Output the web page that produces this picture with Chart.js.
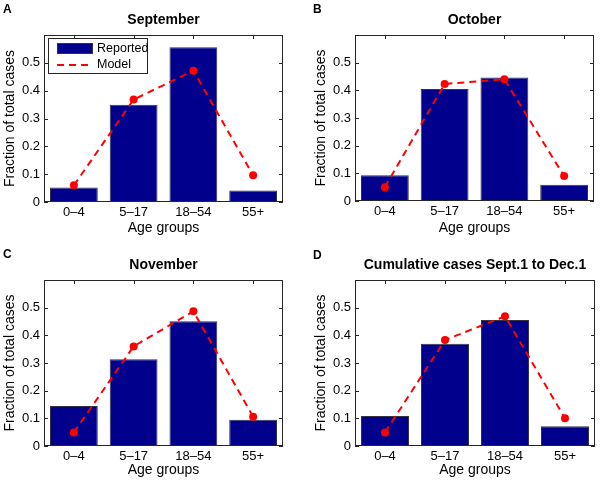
<!DOCTYPE html>
<html>
<head>
<meta charset="utf-8">
<title>Age distribution of cases: reported vs model</title>
<script src="https://cdn.jsdelivr.net/npm/chart.js"></script>
<style>
  body { margin: 0; background: #fff; }
  #wrap { position: relative; width: 600px; height: 480px; }
  #wrap canvas { position: absolute; }
</style>
</head>
<body>
<div id="wrap">
  <canvas id="chartA" width="300" height="240" style="left:0;top:0"></canvas>
  <canvas id="chartB" width="300" height="240" style="left:300px;top:0"></canvas>
  <canvas id="chartC" width="300" height="240" style="left:0;top:240px"></canvas>
  <canvas id="chartD" width="300" height="240" style="left:300px;top:240px"></canvas>
</div>
<script>
// data
const ageGroups = ['0–4', '5–17', '18–54', '55+'];
const reportedSep = [0.052, 0.349, 0.556, 0.041];
const modelSep    = [0.060, 0.368, 0.472, 0.096];
const reportedOct = [0.093, 0.405, 0.446, 0.059];
const modelOct    = [0.050, 0.423, 0.440, 0.090];
const reportedNov = [0.145, 0.314, 0.451, 0.095];
const modelNov    = [0.049, 0.360, 0.487, 0.106];
const reportedCum = [0.108, 0.370, 0.455, 0.071];
const modelCum    = [0.049, 0.383, 0.469, 0.100];
const yLabelled   = [0, 0.1, 0.2, 0.3, 0.4, 0.5];

const FONT = '"Liberation Sans", Arial, Helvetica, sans-serif';
const BAR_BLUE = '#00008c';
const AXIS_COL = '#262626';

// panel placement inside each 300x240 canvas
const panels = [
  { id: 'chartA', letter: 'A', letterPos: [3, 13], title: 'September', titleY: 20.5,
    reported: reportedSep, model: modelSep, area: { left: 44, right: 283, top: 35, bottom: 202 }, xPad: 3.6, legend: true },
  { id: 'chartB', letter: 'B', letterPos: [13, 13], title: 'October', titleY: 20.5,
    reported: reportedOct, model: modelOct, area: { left: 55, right: 294, top: 35, bottom: 201 }, xPad: 3.6 },
  { id: 'chartC', letter: 'C', letterPos: [3, 18], title: 'November', titleY: 25,
    reported: reportedNov, model: modelNov, area: { left: 44, right: 283, top: 40, bottom: 206 }, xPad: 1.6 },
  { id: 'chartD', letter: 'D', letterPos: [13, 19], title: 'Cumulative cases Sept.1 to Dec.1', titleY: 25,
    reported: reportedCum, model: modelCum, area: { left: 55, right: 295, top: 40, bottom: 206 }, xPad: 1.6 }
];

// box round the plot with inward ticks, panel letter and title
const matlabAxes = {
  id: 'matlabAxes',
  beforeDatasetsDraw(chart) {
    const { ctx, chartArea: a, scales: { x, y } } = chart;
    ctx.save();
    ctx.strokeStyle = AXIS_COL;
    ctx.lineWidth = 1;
    ctx.beginPath();
    y.ticks.forEach(t => {
      const py = Math.round(y.getPixelForValue(t.value)) + 0.5;
      ctx.moveTo(a.left, py); ctx.lineTo(a.left + 4, py);
      ctx.moveTo(a.right, py); ctx.lineTo(a.right - 4, py);
    });
    x.ticks.forEach((t, i) => {
      const px = Math.round(x.getPixelForTick(i)) + 0.5;
      ctx.moveTo(px, a.top); ctx.lineTo(px, a.top + 4);
      ctx.moveTo(px, a.bottom); ctx.lineTo(px, a.bottom - 4);
    });
    ctx.stroke();
    ctx.restore();
  },
  afterDatasetsDraw(chart) {
    const { ctx, chartArea: a } = chart;
    ctx.save();
    ctx.strokeStyle = AXIS_COL;
    ctx.lineWidth = 1;
    ctx.strokeRect(Math.round(a.left) + 0.5, Math.round(a.top) + 0.5,
                   Math.round(a.right - a.left) - 1, Math.round(a.bottom - a.top) - 1);
    ctx.restore();
  },
  afterDraw(chart, args, opts) {
    const { ctx, chartArea: a } = chart;
    ctx.save();
    ctx.fillStyle = '#000';
    ctx.font = 'bold 14px ' + FONT;
    ctx.textAlign = 'center';
    ctx.textBaseline = 'middle';
    ctx.fillText(opts.title, (a.left + a.right) / 2, opts.titleY);
    ctx.font = 'bold 12px ' + FONT;
    ctx.textAlign = 'left';
    ctx.textBaseline = 'alphabetic';
    ctx.fillText(opts.letter, opts.letterPos[0], opts.letterPos[1]);

    if (opts.legend) {
      const ds = chart.data.datasets;
      const x0 = Math.round(a.left) + 4, y0 = Math.round(a.top) + 3, w = 99, h = 35;
      ctx.fillStyle = '#fff';
      ctx.fillRect(x0, y0, w, h);
      ctx.strokeStyle = AXIS_COL;
      ctx.lineWidth = 1;
      ctx.strokeRect(x0 + 0.5, y0 + 0.5, w, h);
      ctx.fillStyle = ds[0].backgroundColor;
      ctx.fillRect(x0 + 9, y0 + 5, 36, 11);
      ctx.strokeStyle = ds[0].borderColor;
      ctx.strokeRect(x0 + 9.5, y0 + 5.5, 35, 10);
      ctx.strokeStyle = ds[1].borderColor;
      ctx.lineWidth = 2;
      ctx.setLineDash(ds[1].borderDash);
      ctx.beginPath();
      ctx.moveTo(x0 + 9, y0 + 27);
      ctx.lineTo(x0 + 45, y0 + 27);
      ctx.stroke();
      ctx.setLineDash([]);
      ctx.fillStyle = '#000';
      ctx.font = '12.5px ' + FONT;
      ctx.textBaseline = 'middle';
      ctx.fillText(ds[0].label, x0 + 49, y0 + 11);
      ctx.fillText(ds[1].label, x0 + 49, y0 + 27);
    }
    ctx.restore();
  }
};

panels.forEach(p => {
  const a = p.area;
  new Chart(document.getElementById(p.id), {
    type: 'bar',
    data: {
      labels: ageGroups,
      datasets: [
        {
          type: 'bar',
          label: 'Reported',
          data: p.reported,
          backgroundColor: BAR_BLUE,
          borderColor: '#333344',
          borderWidth: 1,
          barPercentage: 0.8,
          categoryPercentage: 1,
          order: 1
        },
        {
          type: 'line',
          label: 'Model',
          data: p.model,
          borderColor: '#ff0000',
          backgroundColor: '#ff0000',
          borderWidth: 2,
          borderDash: [7, 5],
          pointRadius: 4,
          pointBorderWidth: 0,
          pointBackgroundColor: '#ff0000',
          tension: 0,
          order: 0
        }
      ]
    },
    options: {
      responsive: false,
      animation: false,
      layout: { padding: { left: a.left - 44, right: 300 - a.right, top: a.top, bottom: 0 } },
      plugins: {
        legend: { display: false },
        title: { display: false },
        tooltip: { enabled: false },
        matlabAxes: { title: p.title, titleY: p.titleY, letter: p.letter, letterPos: p.letterPos, legend: !!p.legend }
      },
      scales: {
        x: {
          offset: true,
          grid: { display: false, drawTicks: false },
          border: { display: false },
          ticks: { color: '#000', font: { family: FONT, size: 13 }, padding: 3, maxRotation: 0 },
          title: { display: true, text: 'Age groups', color: '#000', font: { family: FONT, size: 14 },
                   padding: { top: 0, bottom: p.xPad } },
          afterFit: s => { s.height = 240 - a.bottom; }
        },
        y: {
          min: 0,
          max: 0.6,
          grid: { display: false, drawTicks: false },
          border: { display: false },
          ticks: {
            stepSize: 0.1,
            color: '#000',
            font: { family: FONT, size: 13 },
            padding: 4,
            callback: v => {
              const r = Math.round(v * 10) / 10;
              if (!yLabelled.includes(r)) return '';
              return r === 0 ? '0' : r.toFixed(1);
            }
          },
          title: { display: true, text: 'Fraction of total cases', color: '#000', font: { family: FONT, size: 14 },
                   padding: { top: 2, bottom: 0 } },
          afterFit: s => { s.width = 44; }
        }
      }
    },
    plugins: [matlabAxes]
  });
});
</script>
</body>
</html>
